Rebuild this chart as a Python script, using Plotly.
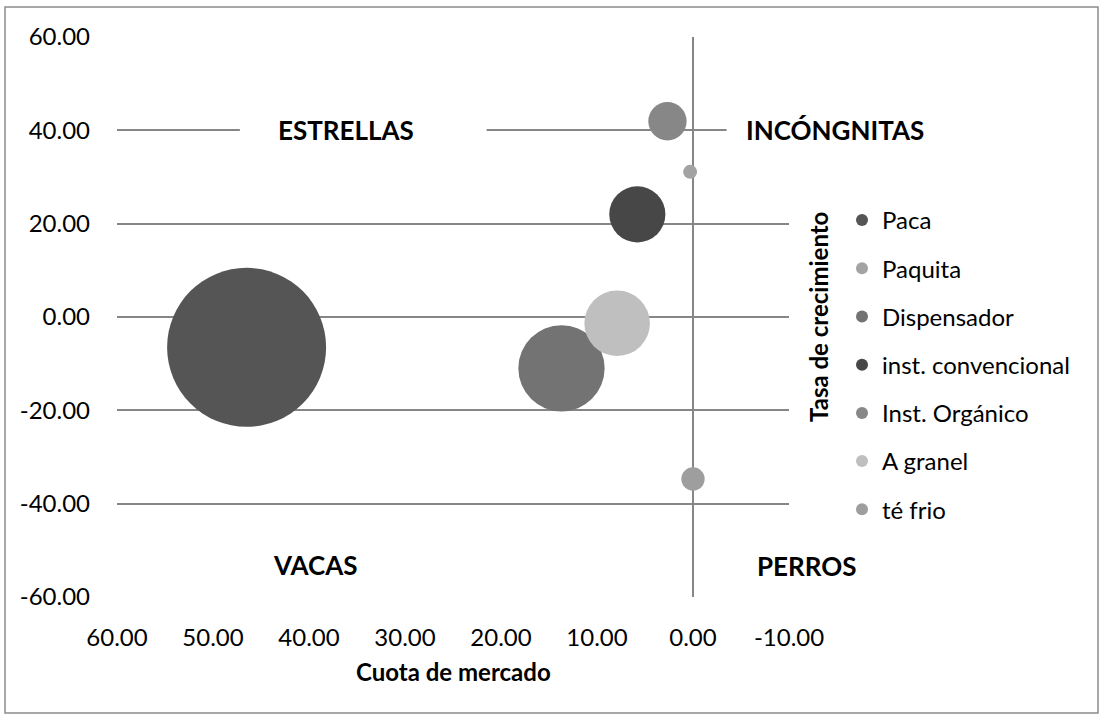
import plotly.graph_objects as go

# Portfolio (BCG-style) matrix: market share vs growth rate, bubble = share weight
productos = ["Paca", "Paquita", "Dispensador", "inst. convencional",
             "Inst. Orgánico", "A granel", "té frio"]
cuota = [46.5, 0.3, 13.7, 5.8, 2.66, 7.9, 0.0]
crecimiento = [-6.5, 31.1, -11.0, 22.0, 41.95, -1.35, -34.7]
tamano = [46.5, 0.36, 13.7, 5.8, 2.7, 7.9, 1.0]
colores = ["#555555", "#a3a3a3", "#737373", "#474747", "#878787", "#bfbfbf", "#9e9e9e"]

x_ticks = [60, 50, 40, 30, 20, 10, 0, -10]
x_tick_text = ["60.00", "50.00", "40.00", "30.00", "20.00", "10.00", "0.00", "-10.00"]
y_ticks = [60, 40, 20, 0, -20, -40, -60]
y_tick_text = ["60.00", "40.00", "20.00", "0.00", "-20.00", "-40.00", "-60.00"]

FONT = "Lato"
GRID = "#868686"
W, H = 1104, 717
ML, MR, MT, MB = 117, 315, 37, 120
PW, PH = W - ML - MR, H - MT - MB


def px_x(p):
    return (p - ML) / PW


def px_y(p):
    return (H - MB - p) / PH


max_diam = 159
sizeref = 2.0 * max(tamano) / max_diam ** 2

fig = go.Figure()
for i, name in enumerate(productos):
    fig.add_trace(go.Scatter(
        x=[cuota[i]], y=[crecimiento[i]], name=name, mode="markers",
        legendgroup=name,
        marker=dict(size=[tamano[i]], sizemode="area", sizeref=sizeref,
                    color=colores[i], line=dict(width=0), opacity=1),
    ))

# white boxes that interrupt the 40.00 gridline behind the quadrant labels
box_shapes = [
    dict(type="rect", xref="x", yref="y", x0=47.2, x1=21.5, y0=37.5, y1=42.5,
         fillcolor="white", line=dict(width=0), layer="between"),
    dict(type="rect", xref="x", yref="y", x0=-3.5, x1=-10.5, y0=37.5, y1=42.5,
         fillcolor="white", line=dict(width=0), layer="between"),
    # chart frame
    dict(type="rect", xref="paper", yref="paper",
         x0=px_x(5), x1=px_x(1098), y0=px_y(713), y1=px_y(7),
         line=dict(color="#8c8c8c", width=1.5), fillcolor="rgba(0,0,0,0)",
         layer="below"),
]

lab_font = dict(family=FONT, size=26, color="black", weight="bold")
title_font = dict(family=FONT, size=24, color="black", weight="bold")
common = dict(showarrow=False, xanchor="center", yanchor="middle")
annotations = [
    dict(text="ESTRELLAS", x=36.1, y=40, xref="x", yref="y", font=lab_font, **common),
    dict(text="INCÓNGNITAS", x=px_x(835), y=40, xref="paper", yref="y",
         font=lab_font, **common),
    dict(text="VACAS", x=39.3, y=-53.1, xref="x", yref="y", font=lab_font, **common),
    dict(text="PERROS", x=px_x(807), y=px_y(566), xref="paper", yref="paper",
         font=lab_font, **common),
    dict(text="Cuota de mercado", x=0.5, y=px_y(671), xref="paper", yref="paper",
         font=title_font, **common),
    dict(text="Tasa de crecimiento", x=px_x(818), y=0.5, xref="paper", yref="paper",
         textangle=-90, font=title_font, **common),
]

fig.update_layout(
    width=W, height=H, autosize=False,
    margin=dict(l=ML, r=MR, t=MT, b=MB, pad=0),
    paper_bgcolor="white", plot_bgcolor="white",
    font=dict(family=FONT, size=24, color="black"),
    shapes=box_shapes, annotations=annotations,
    legend=dict(x=px_x(842), y=px_y(198), xanchor="left", yanchor="top",
                itemsizing="constant", tracegroupgap=14,
                font=dict(family=FONT, size=24, color="black"),
                bgcolor="rgba(0,0,0,0)", traceorder="grouped"),
    xaxis=dict(range=[60, -10], tickvals=x_ticks, ticktext=x_tick_text,
               showgrid=False, zeroline=True, zerolinecolor=GRID, zerolinewidth=2,
               showline=False, ticks="", ticklabelstandoff=24,
               tickfont=dict(family=FONT, size=24, color="black")),
    yaxis=dict(range=[-60, 60], tickvals=y_ticks, ticktext=y_tick_text,
               showgrid=True, gridcolor=GRID, gridwidth=2,
               zeroline=True, zerolinecolor=GRID, zerolinewidth=2,
               showline=False, ticks="", ticklabelstandoff=26,
               tickfont=dict(family=FONT, size=24, color="black")),
)

fig.write_html("out.html")
